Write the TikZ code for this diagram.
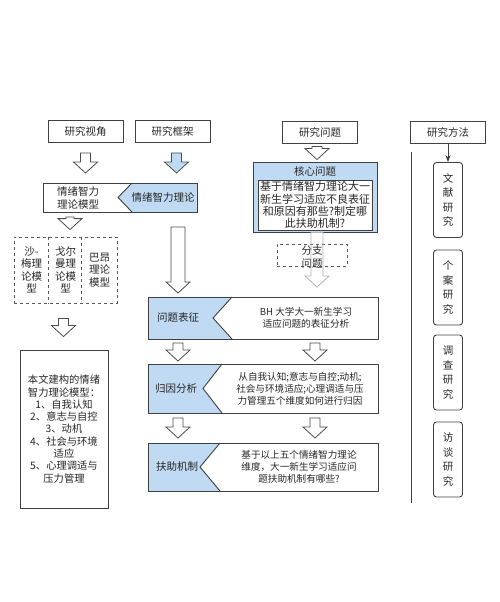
\documentclass[tikz,border=0pt]{standalone}
\usepackage{fontspec}
\setmainfont{Noto Sans CJK SC}
\usetikzlibrary{calc,arrows.meta}
\tikzset{>=Stealth}
\definecolor{cblue}{RGB}{193,218,243}
% hollow block arrow: start, end, half shaft width
\newcommand*{\harrow}[4][fill=white]{%
  \draw[arrowline,#1] let \p1=#2, \p2=#3 in
    (\x1-#4,\y1) -- (\x1+#4,\y1) -- (\x1+#4,\y2+11pt) -- (\x1+12pt,\y2+11pt)
    -- (\x1,\y2) -- (\x1-12pt,\y2+11pt) -- (\x1-#4,\y2+11pt) -- cycle;}
% box with blue part left of a chevron: node, corner offset, tip offset
\newcommand*{\chev}[3]{%
  \fill[cblue] (#1.north west) -- ($(#1.north west)+(#2,0)$) -- ($(#1.west)+(#3,0)$)
    -- ($(#1.south west)+(#2,0)$) -- (#1.south west) -- cycle;
  \draw[boxline] ($(#1.north west)+(#2,0)$) -- ($(#1.west)+(#3,0)$) -- ($(#1.south west)+(#2,0)$);
  \draw[boxline] (#1.north west) rectangle (#1.south east);}
% same, blue part right of the chevron
\newcommand*{\chevr}[3]{%
  \fill[cblue] ($(#1.north west)+(#2,0)$) -- (#1.north east) -- (#1.south east)
    -- ($(#1.south west)+(#2,0)$) -- ($(#1.west)+(#3,0)$) -- cycle;
  \draw[boxline] ($(#1.north west)+(#2,0)$) -- ($(#1.west)+(#3,0)$) -- ($(#1.south west)+(#2,0)$);
  \draw[boxline] (#1.north west) rectangle (#1.south east);}

\begin{document}
\begin{tikzpicture}[x=1pt,y=-1pt,
  txt/.style={align=center,font=\fontsize{10.5}{12.5}\selectfont,text=black!85},
  stxt/.style={txt,font=\fontsize{9.6}{11.7}\selectfont},
  boxline/.style={draw=black!75,line width=0.9pt},
  hbox/.style={boxline,txt,minimum width=75pt,minimum height=22pt},
  dbox/.style={draw=black!65,line width=0.8pt,dashed},
  frameb/.style={inner sep=0pt,outer sep=0pt},
  arrowline/.style={draw=black!70,line width=0.8pt},
  mbox/.style={boxline,rounded corners=3pt,minimum width=29pt,minimum height=75pt,
    txt,font=\fontsize{10.5}{14.5}\selectfont}]
\useasboundingbox (0,0) rectangle (500,602);

% headers
\node[hbox] (view) at (85.5,131.5) {研究视角};
\node[hbox] (frame) at (172.5,131.5) {研究框架};
\node[hbox] (quest) at (320,132) {研究问题};
\node[hbox] (meth) at (448,132) {研究方法};

% left column
\node[frameb,minimum width=154pt,minimum height=29pt] (model) at (120,197.5) {};
\chevr{model}{89}{75}
\node[txt] (modelname) at (78,198) {情绪智力\\理论模型};
\node[txt] (modeltheory) at (163,198) {情绪智力理论};

\node[dbox,minimum width=103pt,minimum height=66pt] (models) at (65.5,270) {};
\foreach \dx in {35,68}
  \draw[dbox] ($(models.north west)+(\dx,0)$) -- ($(models.south west)+(\dx,0)$);
\node[txt] (sm) at (31.5,270) {沙-\\梅理\\论模\\型};
\node[txt] (gm) at (65.5,270) {戈尔\\曼理\\论模\\型};
\node[txt] (ba) at (99.5,270) {巴昂\\理论\\模型};

\node[boxline,txt,minimum width=88pt,minimum height=158pt,font=\fontsize{10.3}{12.3}\selectfont]
  (theory) at (64,429) {本文建构的情绪\\智力理论模型：\\1、自我认知\\2、意志与自控\\3、动机\\
  4、社会与环境\\适应\\5、心理调适与\\压力管理};

% question column
\node[boxline,fill=cblue,minimum width=124pt,minimum height=70pt] (core) at (315,197) {};
\node[txt] (corehead) at (315,171) {核心问题};
\node[boxline,fill=white,txt,font=\fontsize{11}{12.2}\selectfont,minimum width=114pt,
  minimum height=50pt,inner sep=0.5pt] (corein) at (315,205)
  {基于情绪智力理论大一\\新生学习适应不良表征\\和原因有那些?制定哪\\此扶助机制?};
\node[dbox,minimum width=70pt,minimum height=22pt] (branch) at (312,255) {};
\node[txt] (branchtxt) at (312,257) {分支\\问题};

% middle rows
\node[frameb,minimum width=230pt,minimum height=42pt] (rep) at (263,318) {};
\chev{rep}{84}{65}
\node[txt] (reptag) at (178,318) {问题表征};
\node[stxt] (reptxt) at (306,318) {BH 大学大一新生学习\\适应问题的表征分析};

\node[frameb,minimum width=230pt,minimum height=49pt] (attr) at (263,388.5) {};
\chev{attr}{74}{55}
\node[txt] (attrtag) at (176,389) {归因分析};
\node[stxt] (attrtxt) at (300,389)
  {从自我认知;意志与自控;动机;\\社会与环境适应;心理调适与压\\力管理五个维度如何进行归因};

\node[frameb,minimum width=230pt,minimum height=48pt] (help) at (263,467) {};
\chev{help}{72}{52}
\node[txt] (helptag) at (177,467) {扶助机制};
\node[stxt] (helptxt) at (299,467)
  {基于以上五个情绪智力理论\\维度，大一新生学习适应问\\题扶助机制有哪些?};

% block arrows
\harrow{([yshift=-10pt]view.south)}{([yshift=10pt]model.north)}{5pt}
\harrow[fill=cblue]{([xshift=4pt,yshift=-10pt]frame.south)}{([yshift=10pt]model.north)}{5pt}
\harrow{([xshift=-3pt,yshift=-3pt]quest.south)}{([yshift=2pt]core.north)}{5pt}
\harrow{([xshift=-50pt,yshift=-5pt]model.south)}{([yshift=7pt]models.north)}{4pt}
\harrow{([xshift=-2pt,yshift=-15pt]models.south)}{([yshift=13pt]theory.north)}{5pt}
\harrow{([xshift=58pt,yshift=-15pt]model.south)}{([yshift=4pt]rep.north)}{7pt}
\harrow[draw=black!30,fill=none]{([xshift=2pt]core.south)}{([yshift=10pt]rep.north)}{6pt}
\harrow{([xshift=-85pt,yshift=-4pt]rep.south)}{([yshift=3pt]attr.north)}{5pt}
\harrow{([xshift=52pt,yshift=-4pt]rep.south)}{([yshift=3pt]attr.north)}{5pt}
\harrow{([xshift=-85pt,yshift=-5pt]attr.south)}{([yshift=5pt]help.north)}{5pt}
\harrow{([xshift=52pt,yshift=-5pt]attr.south)}{([yshift=5pt]help.north)}{5pt}

% methods
\draw[boxline] (411,152) -- (411,503);
\foreach \t/\y [count=\i] in {{文\\献\\研\\究}/200,{个\\案\\研\\究}/287.5,
    {调\\查\\研\\究}/372.5,{访\\谈\\研\\究}/459.5}
  \node[mbox] (m\i) at (448,\y) {\t};
\draw[boxline,->] (meth) -- (m1);
\end{tikzpicture}
\end{document}
